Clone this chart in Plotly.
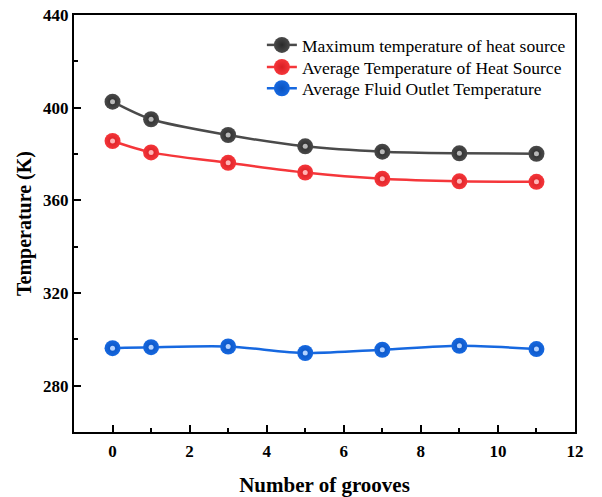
import plotly.graph_objects as go

grooves = [0, 1, 3, 5, 7, 9, 11]
max_temp = [402.6, 395.0, 388.2, 383.3, 381.0, 380.3, 380.1]
avg_temp = [385.6, 380.7, 376.2, 372.0, 369.3, 368.2, 368.0]
fluid_out = [296.2, 296.6, 296.9, 294.1, 295.5, 297.2, 295.8]

names = ["Maximum temperature of heat source",
         "Average Temperature of Heat Source",
         "Average Fluid Outlet Temperature"]
colors = ["#4a4a4a", "#f5363a", "#1668e0"]
dark = ["#2a2a2a", "#d81e24", "#0a52c0"]
light = ["#b8b8b8", "#ffb4b6", "#b4d2ff"]
legends = ["legend", "legend2", "legend3"]
legend_y = [0.928, 0.875, 0.824]

fig = go.Figure()
for ys, name, c, d, lg in zip([max_temp, avg_temp, fluid_out], names, colors, dark, legends):
    fig.add_trace(go.Scatter(
        x=grooves, y=ys, name=name, mode="lines+markers", legend=lg,
        line=dict(color=c, width=2.5, shape="spline", smoothing=0.8),
        marker=dict(size=16, color=c, line=dict(width=0),
                    gradient=dict(type="radial", color=d)),
    ))
for ys, l in zip([max_temp, avg_temp, fluid_out], light):
    fig.add_trace(go.Scatter(
        x=grooves, y=ys, mode="markers", showlegend=False, hoverinfo="skip",
        marker=dict(size=5, color=l, line=dict(width=0)),
    ))

font = "Liberation Serif, Times New Roman, serif"
axis_common = dict(
    showline=True, linecolor="black", linewidth=2, mirror=True,
    ticks="inside", ticklen=7, tickwidth=2, tickcolor="black",
    showgrid=False, zeroline=False, automargin=False,
    tickfont=dict(family=font, size=17, color="black", weight="bold"),
)
fig.update_xaxes(range=[-1, 12], tick0=0, dtick=2, ticklabelstandoff=3,
                 minor=dict(ticks="inside", ticklen=4, tickwidth=2, tickcolor="black", dtick=1, tick0=1),
                 title=dict(text="Number of grooves", font=dict(family=font, size=21, color="black", weight="bold"), standoff=21),
                 **axis_common)
fig.update_yaxes(range=[260, 440], tick0=280, dtick=40,
                 minor=dict(ticks="inside", ticklen=4, tickwidth=2, tickcolor="black", dtick=20, tick0=260),
                 title=dict(text="Temperature (K)", font=dict(family=font, size=20, color="black", weight="bold"), standoff=6),
                 **axis_common)

leg_common = dict(x=0.375, xanchor="left", yanchor="middle",
                  font=dict(family=font, size=17.5, color="black"),
                  bgcolor="rgba(0,0,0,0)", itemwidth=30)
fig.update_layout(
    width=602, height=497,
    margin=dict(l=74, r=27, t=15, b=65, autoexpand=False),
    paper_bgcolor="white", plot_bgcolor="white",
    legend=dict(y=legend_y[0], **leg_common),
    legend2=dict(y=legend_y[1], **leg_common),
    legend3=dict(y=legend_y[2], **leg_common),
    showlegend=True,
)

fig.write_html("out.html")
